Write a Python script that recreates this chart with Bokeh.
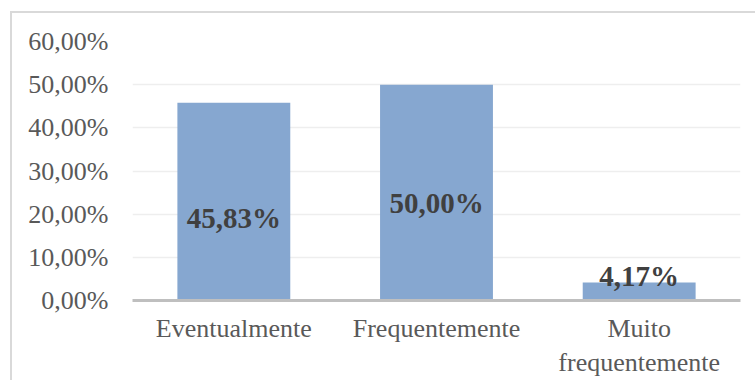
from bokeh.plotting import figure
from bokeh.models import ColumnDataSource, FixedTicker, LabelSet, InlineStyleSheet
from bokeh.embed import file_html
from bokeh.resources import INLINE

categories = ["Eventualmente", "Frequentemente", "Muito\nfrequentemente"]
values = [45.83, 50.00, 4.17]
value_labels = ["45,83%", "50,00%", "4,17%"]
label_y = [19.0, 22.7, 5.7]
tick_values = [0, 10, 20, 30, 40, 50, 60]
tick_labels = ["0,00%", "10,00%", "20,00%", "30,00%", "40,00%", "50,00%", "60,00%"]

src = ColumnDataSource(dict(cat=categories, val=values, lab=value_labels, ly=label_y))

border_css = InlineStyleSheet(css="""
:host { position: relative; }
:host::after {
  content: ''; position: absolute; left: 10px; top: 11px; right: 0px; bottom: 0px;
  border-left: 2px solid #d9d9d9; border-top: 2px solid #d9d9d9;
  pointer-events: none;
}
""")

p = figure(width=755, height=380, x_range=categories, y_range=(0, 60),
           output_backend="svg", toolbar_location=None,
           min_border_left=132, min_border_right=15, min_border_top=41, min_border_bottom=80)
p.stylesheets = [border_css]
p.x_range.range_padding = 0
p.outline_line_color = None
p.background_fill_color = "white"
p.border_fill_color = "white"

p.vbar(x="cat", top="val", width=0.557, source=src, fill_color="#86a7d0", line_color=None)

labels = LabelSet(x="cat", y="ly", text="lab", source=src, text_align="center",
                  text_baseline="middle", text_font="Liberation Serif", text_font_style="bold",
                  text_font_size="29px", text_color="#404040")
p.add_layout(labels)

p.yaxis.ticker = FixedTicker(ticks=tick_values)
p.yaxis.major_label_overrides = {v: l for v, l in zip(tick_values, tick_labels)}
p.yaxis.axis_line_color = None
p.yaxis.major_tick_line_color = None
p.yaxis.minor_tick_line_color = None
p.yaxis.major_label_text_font = "Liberation Serif"
p.yaxis.major_label_text_font_size = "26px"
p.yaxis.major_label_text_color = "#595959"
p.yaxis.major_label_standoff = 18

p.xaxis.axis_line_color = "#bfbfbf"
p.xaxis.axis_line_width = 3
p.xaxis.major_tick_line_color = None
p.xaxis.minor_tick_line_color = None
p.xaxis.major_label_text_font = "Liberation Serif"
p.xaxis.major_label_text_font_size = "26px"
p.xaxis.major_label_text_color = "#595959"
p.xaxis.major_label_standoff = 7

p.xgrid.grid_line_color = None
p.ygrid.grid_line_color = "#eeeeee"
p.ygrid.grid_line_width = 1.5

open("out.html", "w").write(file_html(p, INLINE))
